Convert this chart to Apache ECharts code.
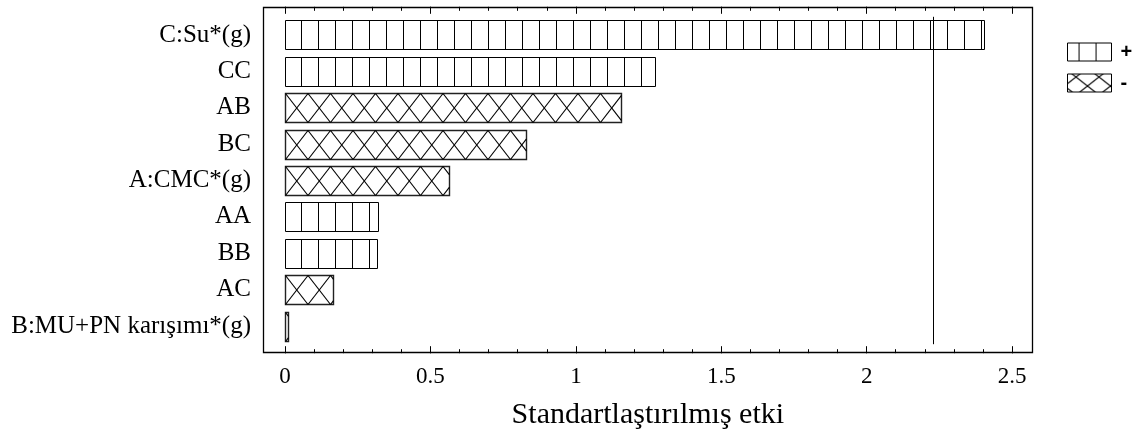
<!DOCTYPE html>
<html>
<head>
<meta charset="utf-8">
<script src="https://cdn.jsdelivr.net/npm/echarts@6/dist/echarts.min.js"></script>
<style>
  html, body { margin: 0; padding: 0; background: #fff; }
  #chart { width: 1141px; height: 430px; }
</style>
</head>
<body>
<div id="chart"></div>
<script>
// ---- data ----
const categories = ['C:Su*(g)', 'CC', 'AB', 'BC', 'A:CMC*(g)', 'AA', 'BB', 'AC', 'B:MU+PN karışımı*(g)'];
const effects = [2.405, 1.273, 1.154, 0.828, 0.565, 0.321, 0.316, 0.166, 0.011];
const signs = ['+', '+', '-', '-', '-', '+', '+', '-', '-'];
const criticalValue = 2.228;
const majorTicks = [0, 0.5, 1, 1.5, 2, 2.5];
const minorTicks = [0, 0.1, 0.2, 0.3, 0.4, 0.5, 0.6, 0.7, 0.8, 0.9, 1, 1.1, 1.2, 1.3, 1.4, 1.5, 1.6, 1.7, 1.8, 1.9, 2, 2.1, 2.2, 2.3, 2.4, 2.5];
const axisTitle = 'Standartlaştırılmış etki';

const AX_MIN = -0.076, AX_MAX = 2.571;
const SERIF = '"Liberation Serif", "Times New Roman", serif';

// ---- hatch helpers ----
const VSTEP = 17, VPHASE = 15, XP = 22.5;

function makeVertPattern() {
  const c = document.createElement('canvas');
  c.width = 17; c.height = 4;
  const g = c.getContext('2d');
  g.fillStyle = '#fff'; g.fillRect(0, 0, 17, 4);
  g.fillStyle = '#000'; g.fillRect(11, 0, 1, 4);
  return { image: c, repeat: 'repeat' };
}
function makeCrossPattern() {
  const c = document.createElement('canvas');
  c.width = 23; c.height = 18;
  const g = c.getContext('2d');
  g.fillStyle = '#fff'; g.fillRect(0, 0, 23, 18);
  g.strokeStyle = '#000'; g.lineWidth = 1.1;
  g.beginPath(); g.moveTo(0, 0); g.lineTo(23, 18); g.moveTo(0, 18); g.lineTo(23, 0); g.stroke();
  return { image: c, repeat: 'repeat', x: 1055, y: 66 };
}

function renderBar(kind) {
  return function (params, api) {
    const v = api.value(0), idx = api.value(1);
    const s = api.coord([0, idx]);
    const e = api.coord([v, idx]);
    const band = api.size([0, 1])[1];
    const h = Math.round(band * 0.786);
    const x0 = Math.round(s[0]) + 0.5;
    const x1 = Math.max(Math.round(e[0]) + 0.5, x0 + 2);
    const y0 = Math.round(s[1] - h / 2) + 0.5;
    const y1 = y0 + h;
    const children = [{
      type: 'rect',
      shape: { x: x0, y: y0, width: x1 - x0, height: h },
      style: { fill: '#fff', stroke: kind === '+' ? '#000' : '#222', lineWidth: kind === '+' ? 1 : 1.4 }
    }];
    const ls = { stroke: '#000', lineWidth: 1 };
    if (kind === '+') {
      for (let x = x0 + VPHASE; x < x1 - 1; x += VSTEP) {
        const xx = Math.round(x) + 0.5;
        children.push({ type: 'line', shape: { x1: xx, y1: y0, x2: xx, y2: y1 }, style: ls });
      }
    } else {
      const H = y1 - y0;
      for (let a = x0; a < x1; a += XP) {
        const bx = Math.min(a + XP, x1);
        const t = (bx - a) / XP;
        children.push({ type: 'line', shape: { x1: a, y1: y0, x2: bx, y2: y0 + t * H }, style: { stroke: '#000', lineWidth: 1.15 } });
        children.push({ type: 'line', shape: { x1: a, y1: y1, x2: bx, y2: y1 - t * H }, style: { stroke: '#000', lineWidth: 1.15 } });
      }
    }
    return { type: 'group', children: children };
  };
}

const plusData = [], minusData = [];
categories.forEach(function (c, i) {
  (signs[i] === '+' ? plusData : minusData).push([effects[i], c]);
});

function xAxisCfg(position, offset, ticks, len, withLabels) {
  return {
    type: 'value', position: position, offset: offset, gridIndex: 0,
    min: AX_MIN, max: AX_MAX,
    axisLine: { show: false },
    splitLine: { show: false },
    axisTick: { show: true, inside: true, length: len, customValues: ticks, lineStyle: { color: '#000', width: 1 } },
    axisLabel: withLabels ? {
      show: true, customValues: majorTicks, margin: 12,
      fontFamily: SERIF, fontSize: 23, color: '#000',
      formatter: function (v) { return String(v); }
    } : { show: false },
    name: withLabels ? axisTitle : '',
    nameLocation: 'middle', nameGap: 47,
    nameTextStyle: { fontFamily: SERIF, fontSize: 30, color: '#000' }
  };
}

const chart = echarts.init(document.getElementById('chart'), null, { renderer: 'canvas' });
chart.setOption({
  backgroundColor: '#fff',
  animation: false,
  grid: { left: 263, right: 108.3, top: 16.8, bottom: 85.8, containLabel: false, outerBoundsMode: 'none' },
  xAxis: [
    xAxisCfg('bottom', 9, minorTicks, 4, true),
    xAxisCfg('bottom', 9, majorTicks, 7, false),
    xAxisCfg('top', 10, minorTicks, 4, false),
    xAxisCfg('top', 10, majorTicks, 7, false)
  ],
  yAxis: {
    type: 'category', data: categories, inverse: true,
    axisLine: { show: false }, axisTick: { show: false }, splitLine: { show: false },
    axisLabel: { fontFamily: SERIF, fontSize: 25, color: '#000', margin: 12 }
  },
  legend: {
    orient: 'vertical', left: 1062, top: 37,
    icon: 'rect', itemWidth: 44, itemHeight: 18, itemGap: 11,
    selectedMode: false,
    textStyle: { fontFamily: '"Liberation Sans", Arial, sans-serif', fontSize: 20, fontWeight: 'bold', color: '#000', padding: [0, 0, 0, 4] },
    data: [
      { name: '+', itemStyle: { color: makeVertPattern(), borderColor: '#000', borderWidth: 1 } },
      { name: '-', itemStyle: { color: makeCrossPattern(), borderColor: '#000', borderWidth: 1 } }
    ]
  },
  graphic: [{
    type: 'rect', silent: true, z: 10,
    shape: { x: 263.5, y: 7.5, width: 769, height: 345 },
    style: { fill: 'none', stroke: '#000', lineWidth: 1.3 }
  }],
  series: [
    {
      name: '+', type: 'custom', xAxisIndex: 0, yAxisIndex: 0,
      renderItem: renderBar('+'), encode: { x: 0, y: 1 },
      itemStyle: { color: '#fff', borderColor: '#000' },
      data: plusData,
      markLine: {
        silent: true, symbol: ['none', 'none'], label: { show: false },
        lineStyle: { color: '#000', width: 1, type: 'solid' },
        data: [{ xAxis: criticalValue }]
      }
    },
    {
      name: '-', type: 'custom', xAxisIndex: 0, yAxisIndex: 0,
      renderItem: renderBar('-'), encode: { x: 0, y: 1 },
      itemStyle: { color: '#fff', borderColor: '#000' },
      data: minusData
    }
  ]
});
</script>
</body>
</html>
